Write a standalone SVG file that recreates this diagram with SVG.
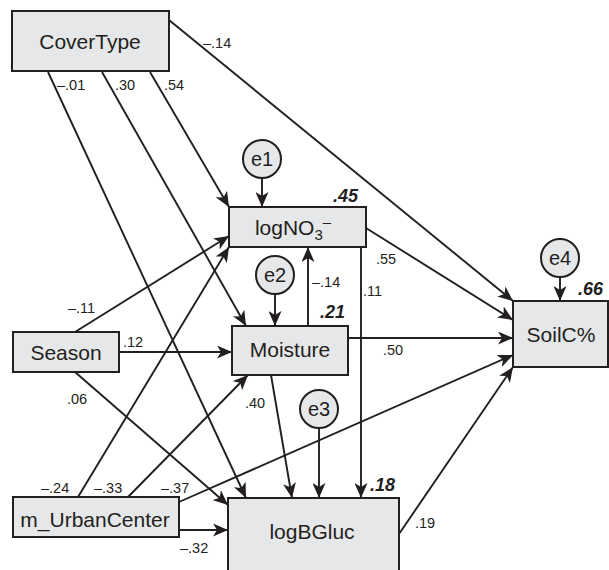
<svg xmlns="http://www.w3.org/2000/svg" width="609" height="570" viewBox="0 0 609 570">
<defs>
<marker id="ah" markerUnits="userSpaceOnUse" markerWidth="15" markerHeight="13" refX="15" refY="6.5" orient="auto" viewBox="0 0 15 13">
<path d="M0,0 L15,6.5 L0,13 L4,6.5 z" fill="#231f20"/>
</marker>
<style>
.box{fill:#e6e7e8;stroke:#231f20;stroke-width:2}
.nt{font-family:"Liberation Sans",Arial,sans-serif;font-size:21px;fill:#231f20;text-anchor:middle}
.et{font-family:"Liberation Sans",Arial,sans-serif;font-size:20px;fill:#231f20;text-anchor:middle}
.lb{font-family:"Liberation Sans",Arial,sans-serif;font-size:14.5px;fill:#231f20}
.r2{font-family:"Liberation Sans",Arial,sans-serif;font-size:18px;font-weight:bold;font-style:italic;fill:#231f20}
.cn line{stroke:#231f20;stroke-width:1.9;marker-end:url(#ah)}
</style>
</defs>
<rect width="609" height="570" fill="#ffffff"/>
<g id="connectors" class="cn">
<line x1="169" y1="20" x2="513" y2="301"/>
<line x1="48" y1="72" x2="246" y2="498"/>
<line x1="102" y1="72" x2="246" y2="326"/>
<line x1="150" y1="72" x2="229" y2="207"/>
<line x1="262" y1="178" x2="262" y2="207"/>
<line x1="275" y1="294" x2="275" y2="326"/>
<line x1="308" y1="326" x2="308" y2="247"/>
<line x1="361" y1="247" x2="361" y2="498"/>
<line x1="366" y1="228" x2="513" y2="320"/>
<line x1="560" y1="277" x2="560" y2="301"/>
<line x1="348" y1="338" x2="513" y2="338"/>
<line x1="75" y1="332" x2="229" y2="236"/>
<line x1="119" y1="352" x2="232" y2="352"/>
<line x1="75" y1="372" x2="228" y2="505"/>
<line x1="78" y1="497" x2="229" y2="247"/>
<line x1="128" y1="497" x2="248" y2="375"/>
<line x1="179" y1="502" x2="513" y2="355"/>
<line x1="179" y1="530" x2="228" y2="530"/>
<line x1="271" y1="375" x2="292" y2="498"/>
<line x1="319" y1="428" x2="319" y2="498"/>
<line x1="399" y1="534" x2="513" y2="367"/>
</g>
<g id="labels">
<text class="lb" x="203" y="48">–.14</text>
<text class="lb" x="57" y="90">–.01</text>
<text class="lb" x="115" y="90">.30</text>
<text class="lb" x="164" y="90">.54</text>
<text class="lb" x="68" y="313">–.11</text>
<text class="lb" x="123" y="347">.12</text>
<text class="lb" x="67" y="404">.06</text>
<text class="lb" x="41" y="493">–.24</text>
<text class="lb" x="94" y="493">–.33</text>
<text class="lb" x="161" y="493">–.37</text>
<text class="lb" x="180" y="553">–.32</text>
<text class="lb" x="245" y="408">.40</text>
<text class="lb" x="312" y="287">–.14</text>
<text class="lb" x="363" y="296">.11</text>
<text class="lb" x="376" y="264">.55</text>
<text class="lb" x="383" y="355">.50</text>
<text class="lb" x="415" y="528">.19</text>
</g>
<g id="CoverType"><rect class="box" x="12" y="11" width="157" height="60"/><text class="nt" x="90" y="49">CoverType</text></g>
<g id="logNO3"><rect class="box" x="229" y="207" width="137" height="40"/><text class="nt" x="293" y="235">logNO<tspan font-size="15" dy="5">3</tspan><tspan font-size="15" dy="-13">–</tspan></text><text class="r2" x="333" y="202">.45</text></g>
<g id="e1"><circle class="box" cx="262" cy="159" r="19"/><text class="et" x="262" y="166">e1</text></g>
<g id="e2"><circle class="box" cx="275" cy="275" r="19"/><text class="et" x="275" y="282">e2</text></g>
<g id="e3"><circle class="box" cx="319" cy="409" r="19"/><text class="et" x="319" y="416">e3</text></g>
<g id="e4"><circle class="box" cx="560" cy="258" r="19"/><text class="et" x="560" y="265">e4</text></g>
<g id="Moisture"><rect class="box" x="232" y="326" width="116" height="49"/><text class="nt" x="290" y="357">Moisture</text><text class="r2" x="320" y="318">.21</text></g>
<g id="SoilC"><rect class="box" x="513" y="301" width="95" height="66"/><text class="nt" x="561" y="342">SoilC%</text><text class="r2" x="578" y="295">.66</text></g>
<g id="Season"><rect class="box" x="13" y="332" width="106" height="40"/><text class="nt" x="66" y="360">Season</text></g>
<g id="m_UrbanCenter"><rect class="box" x="13" y="497" width="166" height="40"/><text class="nt" x="95" y="527">m_UrbanCenter</text></g>
<g id="logBGluc"><rect class="box" x="228" y="498" width="171" height="75"/><text class="nt" x="312" y="539">logBGluc</text><text class="r2" x="370" y="491">.18</text></g>
</svg>
